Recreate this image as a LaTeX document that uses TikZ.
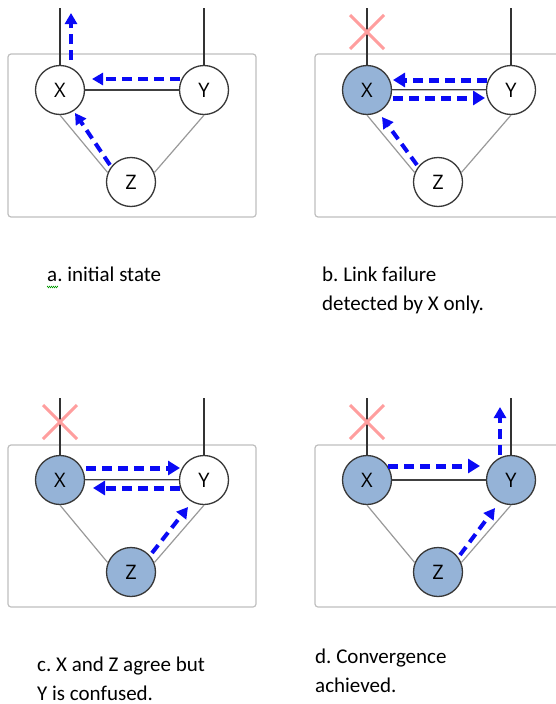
\documentclass[tikz,border=0pt]{standalone}
\usepackage{fontspec}
\setmainfont{Carlito}
\newfontfamily\nodefont{Open Sans}
\usetikzlibrary{arrows.meta,decorations.pathmorphing,calc}
\definecolor{nodeblue}{HTML}{95B3D7}
\definecolor{msgblue}{HTML}{0A0AF5}
\definecolor{crossred}{HTML}{FF9E9E}
\frenchspacing
\begin{document}
\begin{tikzpicture}[x=1pt,y=-1pt,
 router/.style={circle,draw=black!78,line width=1.3pt,minimum size=49pt,inner sep=0pt,fill=white,font=\nodefont\fontsize{20}{22}\selectfont},
 failed/.style={router,fill=nodeblue},
 panel/.style={draw=black!25,line width=1.2pt,rounded corners=3pt},
 uplink/.style={draw=black!80,line width=1.2pt},
 toplink/.style={draw=black!75,line width=1.6pt},
 dbllink/.style={draw=black!75,line width=0.8pt,double=black!25,double distance=0.9pt},
 sidelink/.style={draw=black!40,line width=1.2pt},
 msg/.style={draw=msgblue,line width=4pt,dash pattern=on 10pt off 6pt,-{Triangle[length=11pt,width=12pt]}},
 msgthick/.style={msg,line width=5pt,-{Triangle[length=12pt,width=14pt]}},
 crossmark/.style={draw=crossred,line width=3pt},
 caption/.style={anchor=base west,inner sep=0pt,font=\fontsize{21}{29}\selectfont,align=left}
]
\useasboundingbox (0,0) rectangle (556,704);

% ---------------- panel a ----------------
\draw[panel] (8,54) rectangle (256,217);
\node[router] (xa) at (60,90) {X};
\node[router] (ya) at (204,90) {Y};
\node[router] (za) at (131,182) {Z};
\coordinate (xa-up) at (60,8);
\coordinate (ya-up) at (204,8);
\draw[uplink] (xa.north) -- (xa-up);
\draw[uplink] (ya.north) -- (ya-up);
\draw[toplink] (xa.east) -- (ya.west);
\draw[sidelink] (xa.south) -- (za.158);
\draw[sidelink] (ya.south) -- (za.22);
\coordinate (a1s) at (71,60); \coordinate (a1e) at (71,13);
\coordinate (a2s) at (180,79); \coordinate (a2e) at (92,79);
\coordinate (a3s) at (110,165); \coordinate (a3e) at (75,113);
\draw[msg] (a1s) -- (a1e);
\draw[msg] (a2s) -- (a2e);
\draw[msg] (a3s) -- (a3e);
\node[caption] (capa) at (47,281) {a. initial state};
\draw[green!60!black,line width=0.5pt,decorate,decoration={zigzag,segment length=2pt,amplitude=0.8pt}] (47,287) -- (58,287);

% ---------------- panel b ----------------
\draw[panel] (315,54) rectangle (575,217);
\node[failed] (xb) at (367,90) {X};
\node[router] (yb) at (511,90) {Y};
\node[router] (zb) at (438,182) {Z};
\coordinate (xb-up) at (367,8);
\coordinate (yb-up) at (511,8);
\draw[uplink] (xb.north) -- (xb-up);
\draw[uplink] (yb.north) -- (yb-up);
\draw[dbllink] (xb.east) -- (yb.west);
\draw[sidelink] (xb.south) -- (zb.158);
\draw[sidelink] (yb.south) -- (zb.22);
\coordinate (cb) at (367,32);
\draw[crossmark] ($(cb)+(-17,-17)$) -- ($(cb)+(17,17)$);
\draw[crossmark] ($(cb)+(-17,17)$) -- ($(cb)+(17,-17)$);
\coordinate (b1s) at (487,80); \coordinate (b1e) at (393,80);
\coordinate (b2s) at (393,98); \coordinate (b2e) at (485,98);
\coordinate (b3s) at (417,165); \coordinate (b3e) at (382,117);
\draw[msgthick] (b1s) -- (b1e);
\draw[msgthick] (b2s) -- (b2e);
\draw[msg] (b3s) -- (b3e);
\node[caption] (capb) at (322,310) {b. Link failure\\detected by X only.};

% ---------------- panel c ----------------
\draw[panel] (8,445) rectangle (256,607);
\node[failed] (xc) at (60,480) {X};
\node[router] (yc) at (204,480) {Y};
\node[failed] (zc) at (131,572) {Z};
\coordinate (xc-up) at (60,398);
\coordinate (yc-up) at (204,398);
\draw[uplink] (xc.north) -- (xc-up);
\draw[uplink] (yc.north) -- (yc-up);
\draw[dbllink] (xc.east) -- (yc.west);
\draw[sidelink] (xc.south) -- (zc.158);
\draw[sidelink] (yc.south) -- (zc.22);
\coordinate (cc) at (60,422);
\draw[crossmark] ($(cc)+(-17,-17)$) -- ($(cc)+(17,17)$);
\draw[crossmark] ($(cc)+(-17,17)$) -- ($(cc)+(17,-17)$);
\coordinate (c1s) at (86,468); \coordinate (c1e) at (180,468);
\coordinate (c2s) at (180,488); \coordinate (c2e) at (93,488);
\coordinate (c3s) at (152,553); \coordinate (c3e) at (188,507);
\draw[msgthick] (c1s) -- (c1e);
\draw[msgthick] (c2s) -- (c2e);
\draw[msg] (c3s) -- (c3e);
\node[caption] (capc) at (37,700) {c. X and Z agree but\\Y is confused.};

% ---------------- panel d ----------------
\draw[panel] (315,445) rectangle (575,607);
\node[failed] (xd) at (367,480) {X};
\node[failed] (yd) at (511,480) {Y};
\node[failed] (zd) at (438,572) {Z};
\coordinate (xd-up) at (367,398);
\coordinate (yd-up) at (511,398);
\draw[uplink] (xd.north) -- (xd-up);
\draw[uplink] (yd.north) -- (yd-up);
\draw[toplink] (xd.east) -- (yd.west);
\draw[sidelink] (xd.south) -- (zd.158);
\draw[sidelink] (yd.south) -- (zd.22);
\coordinate (cd) at (367,422);
\draw[crossmark] ($(cd)+(-17,-17)$) -- ($(cd)+(17,17)$);
\draw[crossmark] ($(cd)+(-17,17)$) -- ($(cd)+(17,-17)$);
\coordinate (d1s) at (388,466); \coordinate (d1e) at (480,466);
\coordinate (d2s) at (500,455); \coordinate (d2e) at (500,407);
\coordinate (d3s) at (460,555); \coordinate (d3e) at (495,508);
\draw[msgthick] (d1s) -- (d1e);
\draw[msg] (d2s) -- (d2e);
\draw[msg] (d3s) -- (d3e);
\node[caption] (capd) at (315,692) {d. Convergence\\achieved.};
\end{tikzpicture}
\end{document}
